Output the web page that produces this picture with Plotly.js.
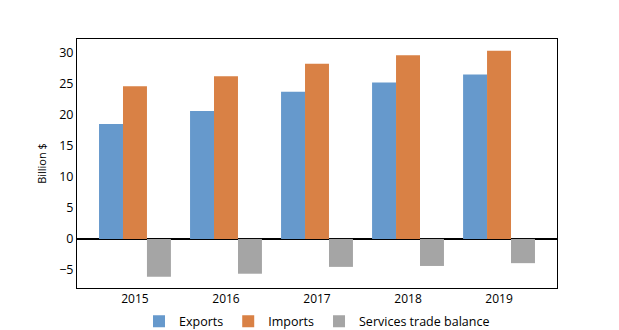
<!DOCTYPE html>
<html><head><meta charset="utf-8">
<script src="https://cdn.plot.ly/plotly-3.0.1.min.js"></script>
<style>html,body{margin:0;padding:0;background:#fff}</style>
</head><body>
<div id="chart" style="width:619px;height:330px"></div>
<script>
const years = ["2015", "2016", "2017", "2018", "2019"];
const exportsVals = [18.5, 20.6, 23.7, 25.2, 26.5];
const importsVals = [24.6, 26.2, 28.2, 29.6, 30.3];
const balanceVals = [-6.1, -5.6, -4.5, -4.35, -3.9];

const font = {family: "Open Sans, DejaVu Sans, sans-serif", size: 11, color: "#000"};
const traces = [
  {type: "bar", name: "Exports", x: years, y: exportsVals, marker: {color: "#6699cc"}},
  {type: "bar", name: "Imports", x: years, y: importsVals, marker: {color: "#d98145"}},
  {type: "bar", name: "Services trade balance", x: years, y: balanceVals, marker: {color: "#a5a5a5"}}
];
const layout = {
  width: 619, height: 330,
  margin: {l: 77, r: 62, t: 39, b: 42, autoexpand: false},
  paper_bgcolor: "#fff", plot_bgcolor: "#fff",
  font: font,
  barmode: "group", bargap: 0.21, bargroupgap: 0,
  showlegend: true,
  legend: {orientation: "h", x: 0.5, xanchor: "center", y: -0.135, yanchor: "middle",
           font: {family: font.family, size: 12.5, color: "#000"}, traceorder: "normal", itemwidth: 30},
  xaxis: {type: "category", range: [-0.637, 4.637], showline: true, mirror: true, linecolor: "#000", linewidth: 1,
          ticks: "", showgrid: false, zeroline: false, tickfont: {family: font.family, size: 12, color: "#000"}},
  yaxis: {range: [-7.9, 32.2], dtick: 5, showline: true, mirror: true, linecolor: "#000", linewidth: 1,
          ticks: "", showgrid: false, zeroline: true, zerolinecolor: "#000", zerolinewidth: 1.5,
          tickfont: {family: font.family, size: 12.5, color: "#000"},
          title: {text: "Billion $", font: {family: font.family, size: 11, color: "#000"}, standoff: 10}}
};
Plotly.newPlot("chart", traces, layout, {displayModeBar: false});
</script>
</body></html>
